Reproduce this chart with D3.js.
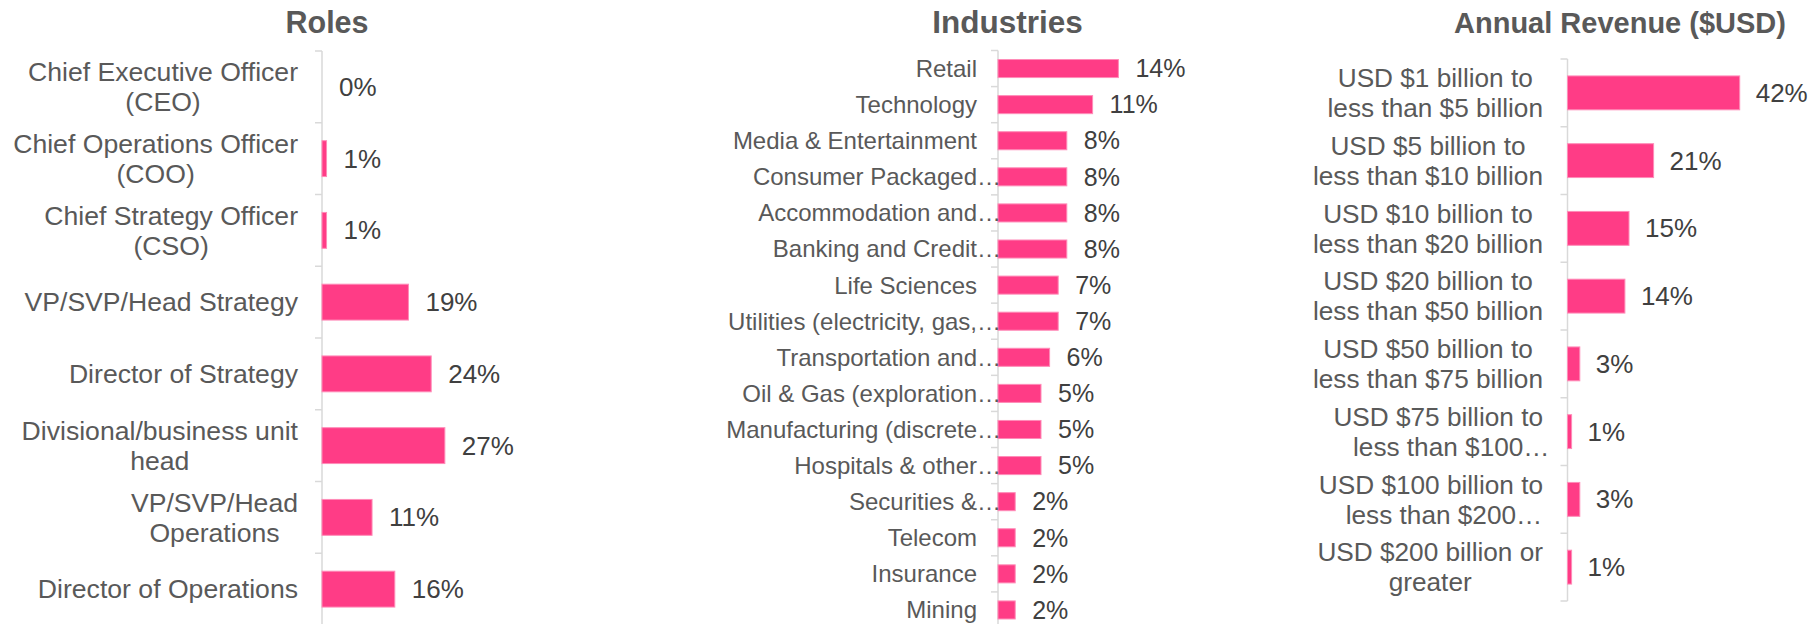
<!DOCTYPE html>
<html>
<head>
<meta charset="utf-8">
<script src="https://cdn.jsdelivr.net/npm/d3@7"></script>
<style>
  html, body { margin: 0; padding: 0; background: #ffffff; }
  svg { display: block; }
</style>
</head>
<body>
<svg id="chart" width="1814" height="624"></svg>
<script>
// Survey respondent profile: three horizontal bar panels.

const panelTitles = ["Roles", "Industries", "Annual Revenue ($USD)"];

// Roles (line breaks mark how each label wraps)
const roleCategories = [
  "Chief Executive Officer\n(CEO)",
  "Chief Operations Officer\n(COO)",
  "Chief Strategy Officer\n(CSO)",
  "VP/SVP/Head Strategy",
  "Director of Strategy",
  "Divisional/business unit\nhead",
  "VP/SVP/Head\nOperations",
  "Director of Operations"
];
const roleValues = [0, 1, 1, 19, 24, 27, 11, 16];

// Industries (a trailing ellipsis marks a clipped label)
const industryCategories = [
  "Retail",
  "Technology",
  "Media & Entertainment",
  "Consumer Packaged…",
  "Accommodation and…",
  "Banking and Credit…",
  "Life Sciences",
  "Utilities (electricity, gas,…",
  "Transportation and…",
  "Oil & Gas (exploration…",
  "Manufacturing (discrete…",
  "Hospitals & other…",
  "Securities &…",
  "Telecom",
  "Insurance",
  "Mining"
];
const industryValues = [14, 11, 8, 8, 8, 8, 7, 7, 6, 5, 5, 5, 2, 2, 2, 2];

// Annual revenue bands
const revenueCategories = [
  "USD $1 billion to\nless than $5 billion",
  "USD $5 billion to\nless than $10 billion",
  "USD $10 billion to\nless than $20 billion",
  "USD $20 billion to\nless than $50 billion",
  "USD $50 billion to\nless than $75 billion",
  "USD $75 billion to\nless than $100…",
  "USD $100 billion to\nless than $200…",
  "USD $200 billion or\ngreater"
];
const revenueValues = [42, 21, 15, 14, 3, 1, 3, 1];

const FONT = '"Liberation Sans", Arial, Helvetica, sans-serif';
const BAR_FILL = "#ff3c86";
const BAR_EDGE = "#ff8cb8";
const AXIS_COLOR = "#d9d9d9";
const LABEL_COLOR = "#595959";
const VALUE_COLOR = "#404040";
const TITLE_COLOR = "#595959";

const svg = d3.select("#chart").attr("font-family", FONT);

function drawPanel(cfg) {
  const g = svg.append("g");
  const n = cfg.categories.length;

  const y = d3.scaleBand()
    .domain(d3.range(n))
    .range(cfg.yRange)
    .paddingInner(0.5)
    .paddingOuter(0.25);

  const x = d3.scaleLinear()
    .domain([0, cfg.xMax])
    .range([cfg.axisX, cfg.axisX + cfg.xWidth]);

  // Title
  g.append("text")
    .attr("x", cfg.titleX)
    .attr("y", 33)
    .attr("text-anchor", "middle")
    .attr("font-size", cfg.titleSize)
    .attr("font-weight", "bold")
    .attr("fill", TITLE_COLOR)
    .text(cfg.title);

  // Category axis: vertical line with ticks on the band boundaries
  const x0 = x(0);
  g.append("line")
    .attr("x1", x0).attr("x2", x0)
    .attr("y1", cfg.yRange[0]).attr("y2", cfg.yRange[1])
    .attr("stroke", AXIS_COLOR)
    .attr("stroke-width", 1.5);

  g.selectAll("line.tick")
    .data(d3.range(n + 1))
    .join("line")
    .attr("class", "tick")
    .attr("x1", x0 - 7).attr("x2", x0)
    .attr("y1", i => cfg.yRange[0] + i * y.step())
    .attr("y2", i => cfg.yRange[0] + i * y.step())
    .attr("stroke", AXIS_COLOR)
    .attr("stroke-width", 1.5);

  // Bars
  g.selectAll("rect.bar")
    .data(cfg.values)
    .join("rect")
    .attr("class", "bar")
    .attr("x", x0)
    .attr("y", (d, i) => y(i))
    .attr("width", d => x(d) - x0)
    .attr("height", y.bandwidth())
    .attr("fill", BAR_FILL)
    .attr("stroke", BAR_EDGE)
    .attr("stroke-width", 1);

  // Value labels
  g.selectAll("text.value")
    .data(cfg.values)
    .join("text")
    .attr("class", "value")
    .attr("x", d => x(d) + cfg.valueGap)
    .attr("y", (d, i) => y(i) + y.bandwidth() / 2)
    .attr("dy", "0.35em")
    .attr("font-size", cfg.valueSize)
    .attr("fill", VALUE_COLOR)
    .text(d => d + "%");

  // Category labels: the block is right-aligned, its lines centred inside it;
  // a clipping ellipsis hangs past the aligned text.
  cfg.categories.forEach((cat, i) => {
    const lines = cat.split("\n");
    const cy = y(i) + y.bandwidth() / 2;
    const top = cy - (lines.length - 1) * cfg.lineGap / 2;
    const t = g.append("text")
      .attr("font-size", cfg.labelSize)
      .attr("fill", LABEL_COLOR);
    const spans = lines.map((ln, j) => {
      const clipped = ln.endsWith("…");
      const main = clipped ? ln.slice(0, -1) : ln;
      const ts = t.append("tspan")
        .attr("x", 0)
        .attr("y", top + j * cfg.lineGap)
        .attr("dy", "0.35em")
        .text(main);
      if (clipped) t.append("tspan").text("…");
      return { ts, w: ts.node().getComputedTextLength() };
    });
    const blockW = d3.max(spans, s => s.w);
    const cx = cfg.labelRight - blockW / 2;
    spans.forEach(s => s.ts.attr("x", cx - s.w / 2));
  });
}

drawPanel({
  title: panelTitles[0], titleX: 327, titleSize: 30.5,
  categories: roleCategories, values: roleValues,
  axisX: 322, yRange: [51, 625], xMax: 30, xWidth: 136.5,
  labelRight: 298, labelSize: 26.6, lineGap: 30,
  valueSize: 26, valueGap: 17
});

drawPanel({
  title: panelTitles[1], titleX: 1007.5, titleSize: 31.5,
  categories: industryCategories, values: industryValues,
  axisX: 998, yRange: [50.5, 628], xMax: 15, xWidth: 129,
  labelRight: 977, labelSize: 24, lineGap: 30,
  valueSize: 25, valueGap: 17
});

drawPanel({
  title: panelTitles[2], titleX: 1620, titleSize: 29,
  categories: revenueCategories, values: revenueValues,
  axisX: 1567.5, yRange: [59, 601], xMax: 45, xWidth: 184.5,
  labelRight: 1543, labelSize: 26.2, lineGap: 30,
  valueSize: 26, valueGap: 16
});
</script>
</body>
</html>
